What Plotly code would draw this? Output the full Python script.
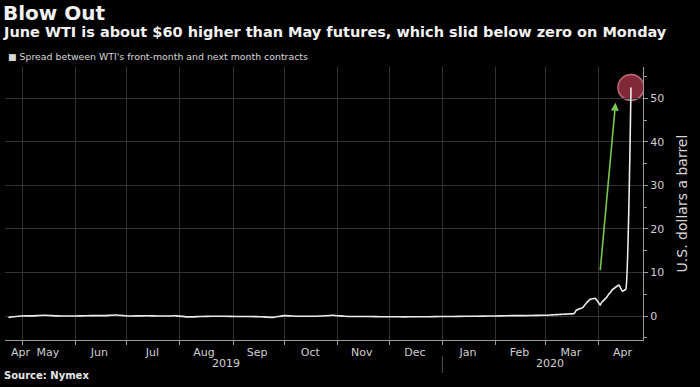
import plotly.graph_objects as go

# ---- data ----
flat_dates = [
    "2019-04-23", "2019-04-30", "2019-05-07", "2019-05-14", "2019-05-21", "2019-05-28",
    "2019-06-04", "2019-06-11", "2019-06-18", "2019-06-25", "2019-07-02", "2019-07-09",
    "2019-07-16", "2019-07-23", "2019-07-30", "2019-08-06", "2019-08-13", "2019-08-20",
    "2019-08-27", "2019-09-03", "2019-09-10", "2019-09-17", "2019-09-24", "2019-10-01",
    "2019-10-08", "2019-10-15", "2019-10-22", "2019-10-29", "2019-11-05", "2019-11-12",
    "2019-11-19", "2019-11-26", "2019-12-03", "2019-12-10", "2019-12-17", "2019-12-24",
    "2019-12-31", "2020-01-07", "2020-01-14", "2020-01-21", "2020-01-28", "2020-02-04",
    "2020-02-11", "2020-02-18", "2020-02-25",
]
flat_values = [
    -0.3, 0.0, 0.05, 0.2, 0.05, 0.0,
    0.05, 0.1, 0.1, 0.25, 0.0, 0.05,
    0.05, 0.0, 0.05, -0.2, -0.1, -0.05,
    -0.05, -0.1, -0.1, -0.15, -0.3, 0.1,
    -0.05, -0.05, 0.0, 0.2, -0.05, -0.1,
    -0.1, -0.15, -0.15, -0.2, -0.15, -0.15,
    -0.1, -0.1, -0.05, -0.05, 0.0, 0.05,
    0.1, 0.1, 0.15,
]
crash_dates = [
    "2020-03-02", "2020-03-04", "2020-03-06", "2020-03-09", "2020-03-11", "2020-03-13",
    "2020-03-16", "2020-03-17", "2020-03-18", "2020-03-19", "2020-03-20", "2020-03-23",
    "2020-03-24", "2020-03-25", "2020-03-26", "2020-03-27", "2020-03-30", "2020-03-31",
    "2020-04-01", "2020-04-02", "2020-04-03", "2020-04-06", "2020-04-07", "2020-04-08",
    "2020-04-09", "2020-04-13", "2020-04-14", "2020-04-15", "2020-04-16", "2020-04-17",
    "2020-04-20",
]
crash_values = [
    0.2, 0.25, 0.3, 0.35, 0.4, 0.45,
    0.5, 0.55, 0.6, 1.3, 1.5, 2.0,
    2.5, 3.0, 3.4, 3.8, 4.1, 3.7,
    3.1, 2.5, 3.2, 4.4, 5.0, 5.4,
    6.0, 7.1, 6.4, 5.7, 5.9, 6.2,
    52.5,
]
dates = flat_dates + crash_dates
values = flat_values + crash_values

month_label_dates = [
    "2019-04-30", "2019-05-16", "2019-06-15", "2019-07-16", "2019-08-15", "2019-09-15",
    "2019-10-16", "2019-11-15", "2019-12-16", "2020-01-16", "2020-02-15", "2020-03-16",
    "2020-04-15",
]
month_labels = ["Apr", "May", "Jun", "Jul", "Aug", "Sep", "Oct", "Nov", "Dec",
                "Jan", "Feb", "Mar", "Apr"]
month_bounds = [
    "2019-05-01", "2019-06-01", "2019-07-01", "2019-08-01", "2019-09-01", "2019-10-01",
    "2019-11-01", "2019-12-01", "2020-01-01", "2020-02-01", "2020-03-01", "2020-04-01",
]
year_labels = ["2019", "2020"]
year_label_dates = ["2019-08-28", "2020-03-04"]
y_ticks = [0, 10, 20, 30, 40, 50]

TXT = "#e6e6e6"
GRID = "#333333"
AX = "#9a9a9a"
FONT = "DejaVu Sans"

fig = go.Figure()
fig.add_trace(go.Scatter(
    x=dates, y=values, mode="lines",
    line=dict(color="#ededed", width=1.6, shape="spline", smoothing=0.4),
    showlegend=False, hoverinfo="skip",
))

fig.update_layout(
    width=700, height=387,
    paper_bgcolor="#000000", plot_bgcolor="#000000",
    margin=dict(l=5, r=57, t=67, b=47),
    font=dict(family=FONT, color=TXT, size=11),
    showlegend=False,
    xaxis=dict(
        type="date",
        range=["2019-04-21", "2020-04-27"],
        tickmode="array", tickvals=month_label_dates, ticktext=month_labels,
        ticks="", showgrid=False, zeroline=False,
        showline=True, linecolor=AX, linewidth=1,
        tickfont=dict(size=11, color="#d0d0d0", family=FONT),
        ticklabelstandoff=2,
        minor=dict(tickmode="array", tickvals=month_bounds, ticks="outside",
                   ticklen=4, tickcolor=AX, showgrid=True, gridcolor=GRID, gridwidth=1),
    ),
    yaxis=dict(
        side="right", range=[-5.5, 57.2],
        tickmode="array", tickvals=y_ticks,
        ticks="outside", ticklen=4, tickcolor=AX,
        showgrid=True, gridcolor=GRID, gridwidth=1, zeroline=False,
        showline=True, linecolor=AX, linewidth=1,
        tickfont=dict(size=11, color="#d0d0d0", family=FONT),
        minor=dict(dtick=5, tick0=0, ticks="outside", ticklen=3, tickcolor=AX, showgrid=False),
        title=dict(text="U.S. dollars a barrel", font=dict(size=14, color="#d8d8d8", family=FONT),
                   standoff=13),
    ),
)

# Titles
fig.add_annotation(xref="paper", yref="paper", x=-0.007, y=1, yanchor="top", xanchor="left",
                   yshift=68, text="<b>Blow Out</b>", showarrow=False,
                   font=dict(size=20, color="#f2f2f2", family=FONT))
fig.add_annotation(xref="paper", yref="paper", x=-0.007, y=1, yanchor="top", xanchor="left",
                   yshift=45, text="<b>June WTI is about $60 higher than May futures, which slid below zero on Monday</b>",
                   showarrow=False, font=dict(size=14.5, color="#f2f2f2", family=FONT))
fig.add_annotation(xref="paper", yref="paper", x=0.002, y=1, yanchor="top", xanchor="left",
                   yshift=18, text="■<span style='font-size:9.4px'> Spread between WTI's front-month and next month contracts</span>",
                   showarrow=False, font=dict(size=9, color="#d8d8d8", family=FONT))
fig.add_annotation(xref="paper", yref="paper", x=-0.005, y=0, yanchor="top", xanchor="left",
                   yshift=-28, text="<b>Source: Nymex</b>", showarrow=False,
                   font=dict(size=10, color="#e6e6e6", family=FONT))

# Year labels + divider
for lab, d in zip(year_labels, year_label_dates):
    fig.add_annotation(xref="x", yref="paper", x=d, y=0, yanchor="top", yshift=-15,
                       text=lab, showarrow=False,
                       font=dict(size=11, color="#d0d0d0", family=FONT))
fig.add_shape(type="line", xref="x", yref="paper", x0="2020-01-01", x1="2020-01-01",
              y0=-0.06, y1=-0.12, line=dict(color="#555555", width=1))

# Highlight circle at the spike
fig.add_shape(type="circle", xref="x", yref="y", xsizemode="pixel", ysizemode="pixel",
              xanchor=crash_dates[-1], yanchor=crash_values[-1],
              x0=-13, x1=13, y0=-13, y1=13,
              fillcolor="rgba(140,45,62,0.92)", line=dict(color="#c06a7a", width=1.5),
              layer="below")

# Green arrow
fig.add_annotation(xref="x", yref="y", axref="x", ayref="y",
                   x="2020-04-11", y=49, ax="2020-04-02", ay=10.2,
                   showarrow=True, arrowhead=2, arrowsize=1, arrowwidth=1.6,
                   arrowcolor="#78c850", text="")

fig.write_html("out.html", config={"displayModeBar": False},
               post_script="document.body.style.margin='0';document.body.style.background='#000';")
